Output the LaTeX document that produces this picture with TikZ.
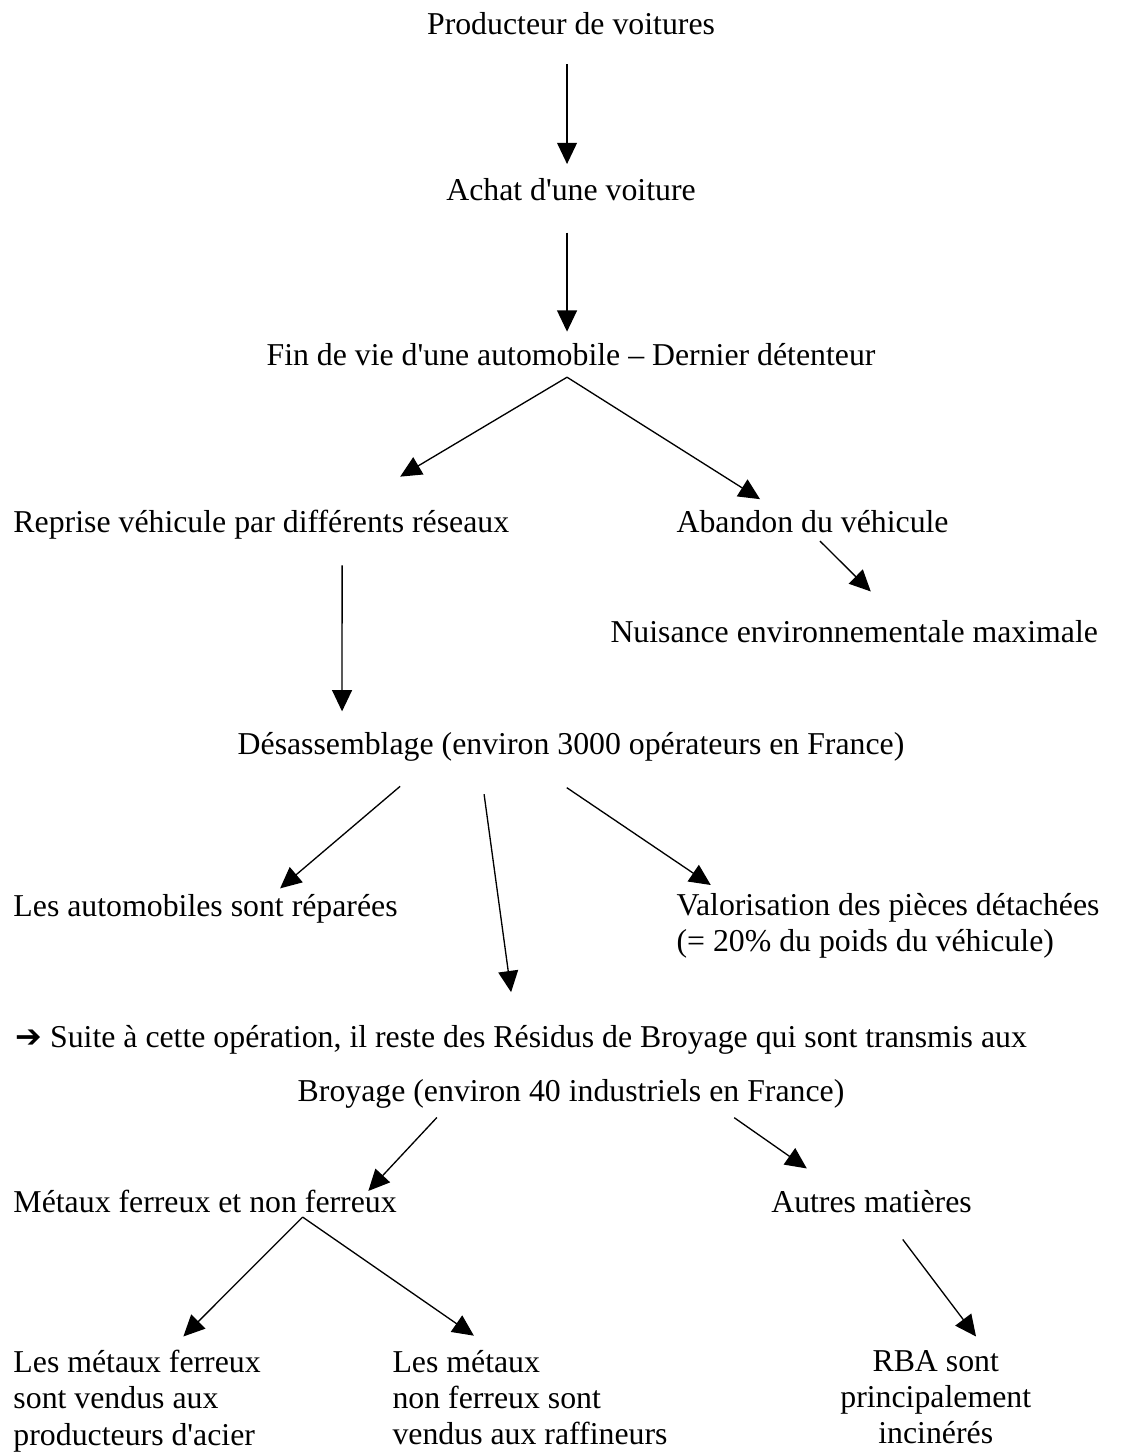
\documentclass[tikz,border=0pt]{standalone}
\usepackage{fontspec}
\setmainfont{Liberation Serif}
\newfontfamily\symfont{DejaVu Sans}
\usetikzlibrary{arrows.meta}

\begin{document}
\begin{tikzpicture}[
    % Styles
    stage/.style={
        inner sep=0pt, text height=0.7em, text depth=0.22em,
        font=\fontsize{12pt}{13.6pt}\selectfont
    },
    stack/.style={
        inner sep=0pt, align=#1,
        font=\fontsize{12pt}{13.6pt}\selectfont
    },
    stack/.default=left,
    flow/.style={
        -{Triangle[length=8pt, width=7.5pt]}, line width=0.5pt, black
    }
]
\useasboundingbox (0, 0) rectangle (14.96, -19.31);

% ── Life of the car ─────────────────────────────────────────────────────────
\node[stage, anchor=base] (prod) at (7.573, -0.455) {Producteur de voitures};
\node[stage, anchor=base] (achat) at (7.573, -2.653) {Achat d\textquotesingle une voiture};
\node[stage, anchor=base] (finvie) at (7.573, -4.841) {Fin de vie d\textquotesingle une automobile – Dernier détenteur};

% ── Take-back or abandon ────────────────────────────────────────────────────
\node[stage, anchor=base west] (reprise) at (0.172, -7.056) {Reprise véhicule par différents réseaux};
\node[stage, anchor=base west] (abandon) at (8.966, -7.056) {Abandon du véhicule};
\node[stage, anchor=base west] (nuisance) at (8.090, -8.519) {Nuisance environnementale maximale};

% ── Dismantling ─────────────────────────────────────────────────────────────
\node[stage, anchor=base] (desass) at (7.573, -10.0) {Désassemblage (environ 3000 opérateurs en France)};
\node[stage, anchor=base west] (repar) at (0.172, -12.158) {Les automobiles sont réparées};
\node[stack, anchor=north west] (valor) at (8.966, -11.839) {Valorisation des pièces détachées\\(= 20\% du poids du véhicule)};
\node[stage, anchor=base west] (suite) at (0.199, -13.886) {{\symfont ➔} Suite à cette opération, il reste des Résidus de Broyage qui sont transmis aux};

% ── Shredding ───────────────────────────────────────────────────────────────
\node[stage, anchor=base] (broyage) at (7.573, -14.602) {Broyage (environ 40 industriels en France)};
\node[stage, anchor=base west] (metaux) at (0.172, -16.083) {Métaux ferreux et non ferreux};
\node[stage, anchor=base west] (autres) at (10.222, -16.083) {Autres matières};
\node[stack, anchor=north west] (ferreux) at (0.172, -17.904) {Les métaux ferreux\\sont vendus aux\\producteurs d\textquotesingle acier};
\node[stack, anchor=north west] (nonferreux) at (5.199, -17.904) {Les métaux\\non ferreux sont\\vendus aux raffineurs};
\node[stack=center, anchor=north] (rba) at (12.410, -17.904) {RBA sont\\principalement\\incinérés};

% ── Arrows ──────────────────────────────────────────────────────────────────
\draw[flow] ([xshift=-1.5pt, yshift=-8.9pt]prod.south) -- ([xshift=-1.5pt, yshift=6.4pt]achat.north);
\draw[flow] ([xshift=-1.5pt, yshift=-9.9pt]achat.south) -- ([xshift=-1.5pt, yshift=5.4pt]finvie.north);

% Fin de vie -> reprise / abandon
\draw[flow] ([xshift=-1.5pt, yshift=-2.2pt]finvie.south) -- ([xshift=146.1pt, yshift=13.7pt]reprise.north west);
\draw[flow] ([xshift=-1.5pt, yshift=-2.2pt]finvie.south) -- ([xshift=31.7pt, yshift=5.2pt]abandon.north west);
\draw[flow] ([xshift=54.3pt, yshift=-1pt]abandon.south west) -- ([xshift=98.4pt, yshift=12pt]nuisance.north west);
\draw[flow] ([xshift=124.2pt, yshift=-10.2pt]reprise.south west) -- ([xshift=-86.4pt, yshift=8.9pt]desass.north);

% Desassemblage -> three outcomes
\draw[flow] ([xshift=-64.5pt, yshift=-9.8pt]desass.south) -- ([xshift=100.8pt, yshift=3.5pt]repar.north west);
\draw[flow] ([xshift=-32.8pt, yshift=-12.8pt]desass.south) -- ([xshift=187.2pt, yshift=13.5pt]suite.north west);
\draw[flow] ([xshift=-1.6pt, yshift=-10.3pt]desass.south) -- ([xshift=13.1pt, yshift=2.9pt]valor.north west);

% Broyage -> metals / other
\draw[flow] ([xshift=-50.6pt, yshift=-3.8pt]broyage.south) -- ([xshift=134.1pt, yshift=1pt]metaux.north west);
\draw[flow] ([xshift=61.6pt, yshift=-3.9pt]broyage.south) -- ([xshift=13.6pt, yshift=9.5pt]autres.north west);
\draw[flow] ([xshift=109.3pt, yshift=0.75pt]metaux.south west) -- ([xshift=64.3pt, yshift=5.1pt]ferreux.north west);
\draw[flow] ([xshift=109.3pt, yshift=0.75pt]metaux.south west) -- ([xshift=30.9pt, yshift=5.4pt]nonferreux.north west);
\draw[flow] ([xshift=49.8pt, yshift=-7.7pt]autres.south west) -- ([xshift=15.2pt, yshift=5.1pt]rba.north);

\end{tikzpicture}
\end{document}
